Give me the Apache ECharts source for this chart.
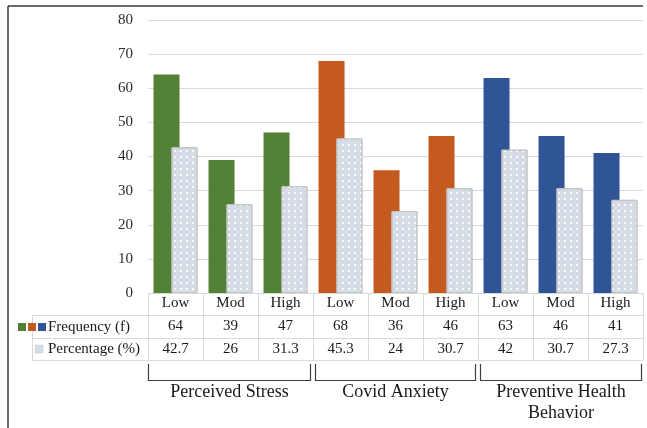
<!DOCTYPE html>
<html><head><meta charset="utf-8">
<script src="https://cdn.jsdelivr.net/npm/echarts@6/dist/echarts.min.js"></script>
<style>html,body{margin:0;padding:0;background:#fff}#c{width:647px;height:428px}</style>
</head><body><div id="c"></div>
<script>
const categories = ['Low','Mod','High','Low','Mod','High','Low','Mod','High'];
const groups = ['Perceived Stress','Covid Anxiety','Preventive Health\nBehavior'];
const frequency = [64,39,47,68,36,46,63,46,41];
const percentage = [42.7,26,31.3,45.3,24,30.7,42,30.7,27.3];
const yTicks = {min:0, max:80, interval:10};
const groupColors = ['#538135','#c55a21','#2f5597'];

const FONT = '"Liberation Serif", "Times New Roman", serif';
const L = 148, R = 643, T = 20, B = 293;
const cw = (R - L) / categories.length;
const gridLine = '#d9d9d9';

const graphic = [];
graphic.push({type:'line', shape:{x1:8,y1:6,x2:643,y2:6}, style:{stroke:'#3a3a3a', lineWidth:1.5}});
graphic.push({type:'line', shape:{x1:8,y1:6,x2:8,y2:428}, style:{stroke:'#3a3a3a', lineWidth:1.5}});
[315,338,360].forEach(y=>graphic.push({type:'line', shape:{x1:32,y1:y+0.5,x2:y===360?R:L,y2:y+0.5}, style:{stroke:gridLine, lineWidth:1}}));
graphic.push({type:'line', shape:{x1:32.5,y1:315,x2:32.5,y2:360}, style:{stroke:gridLine, lineWidth:1}});
groupColors.forEach((c,i)=>graphic.push({type:'rect', shape:{x:18+i*10,y:323,width:8,height:8}, style:{fill:c}}));
graphic.push({type:'rect', shape:{x:35,y:345,width:8,height:8}, style:{fill:'#d6dce5', stroke:'#c9c9c9', lineWidth:0.5}});
graphic.push({type:'text', x:48, y:327, style:{text:'Frequency (f)', font:'15px '+FONT, fill:'#1a1a1a', verticalAlign:'middle'}});
graphic.push({type:'text', x:48, y:349, style:{text:'Percentage (%)', font:'15px '+FONT, fill:'#1a1a1a', verticalAlign:'middle'}});
groups.forEach((g,i)=>{
  const x0 = L + i*3*cw + (i===0?0:2), x1 = L + (i+1)*3*cw - (i===2?1:2);
  graphic.push({type:'polyline', shape:{points:[[x0+0.5,364],[x0+0.5,380.5],[x1-0.5,380.5],[x1-0.5,364]]}, style:{stroke:'#404040', lineWidth:1.2, fill:null}});
  graphic.push({type:'text', x:(x0+x1)/2, y:382, style:{text:g, font:'18px '+FONT, fill:'#1a1a1a', align:'center', verticalAlign:'top', lineHeight:21}});
});

const chart = echarts.init(document.getElementById('c'), null, {renderer:'canvas'});
chart.setOption({
  animation:false,
  backgroundColor:'#fff',
  grid:{left:L, right:647-R, top:T, bottom:428-B, containLabel:false},
  xAxis:[
    {type:'category', data:categories, position:'bottom',
     axisLine:{show:true, lineStyle:{color:gridLine}},
     axisTick:{show:true, interval:0, length:67, lineStyle:{color:gridLine}},
     axisLabel:{margin:3, fontFamily:FONT, fontSize:15, color:'#1a1a1a', interval:0}},
    {type:'category', data:frequency.map(String), position:'bottom', offset:22,
     axisLine:{show:true, lineStyle:{color:gridLine}}, axisTick:{show:false},
     axisLabel:{margin:4, fontFamily:FONT, fontSize:15, color:'#1a1a1a', interval:0}},
    {type:'category', data:percentage.map(String), position:'bottom', offset:45,
     axisLine:{show:true, lineStyle:{color:gridLine}}, axisTick:{show:false},
     axisLabel:{margin:4, fontFamily:FONT, fontSize:15, color:'#1a1a1a', interval:0}}
  ],
  yAxis:{type:'value', min:yTicks.min, max:yTicks.max, interval:yTicks.interval,
    axisLine:{show:false}, axisTick:{show:false},
    splitLine:{lineStyle:{color:gridLine, width:1}},
    axisLabel:{margin:15, fontFamily:FONT, fontSize:15, color:'#2a2a2a'}},
  series:[
    {name:'Frequency (f)', type:'bar', xAxisIndex:0, data:frequency, barWidth:26, barGap:'-31%',
     itemStyle:{color:p=>groupColors[Math.floor(p.dataIndex/3)]}},
    {name:'Percentage (%)', type:'bar', xAxisIndex:0, data:percentage, barWidth:26,
     itemStyle:{color:'#d6dce5', borderColor:'#c4c4c4', borderWidth:1,
       decal:{symbol:'rect', symbolSize:1, color:'rgba(255,255,255,0.85)', dashArrayX:[1.5,3.5], dashArrayY:[1.5,3.5], rotation:0}}}
  ],
  graphic:graphic
});
</script></body></html>
